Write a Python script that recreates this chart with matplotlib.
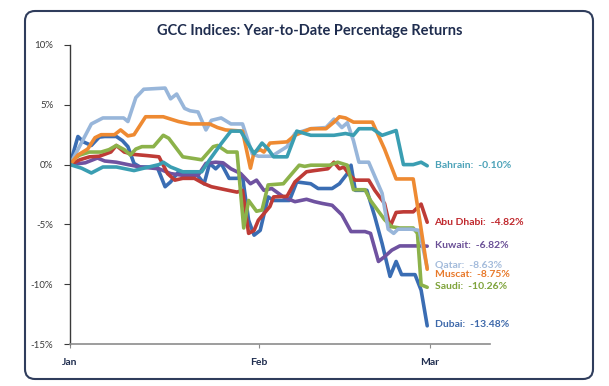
import matplotlib
matplotlib.use("Agg")
import matplotlib.pyplot as plt
from matplotlib.patches import FancyBboxPatch

plt.rcParams['font.family'] = ['Lato', 'DejaVu Sans']

# giorni dal 1 gennaio e rendimenti YTD (%)
dubai_days = [0, 1.3, 2.2, 3.5, 4.8, 5.7, 7.6, 8.6, 9.5, 10.5, 11.5, 14.3, 15.6, 16.5, 17.8, 19.1, 20.7, 22, 22.9, 23.9,
              24.8, 26.1, 27.4, 28.3, 29.3, 30.2, 31.2, 32.5, 33.4, 36, 37.2, 39.5, 40.7, 43, 44.2, 45.5, 46.1, 46.8,
              48.7, 50, 51.2, 52.5, 53.5, 54.4, 56.6, 57.6, 58.6]
dubai = [0, 2.35, 1.9, 1.6, 2.3, 2.35, 2.35, 2.0, 1.5, 0.1, -0.2, -0.2, -1.85, -1.45, -0.6, -0.75, -0.75, -1.6, 0.1,
         -0.35, 0.1, -1.15, -1.15, -1.0, -4.65, -5.9, -5.5, -2.7, -3.0, -3.0, -1.45, -1.6, -2.0, -2.0, -1.6, -0.75,
         -0.05, -2.15, -2.15, -4.35, -6.6, -9.35, -8.1, -9.2, -9.2, -10.5, -13.48]

ad_days = [0, 1.6, 3.2, 4.8, 6.7, 7.6, 8.9, 10.5, 12.7, 14.6, 16, 17.2, 18.5, 20.4, 22, 23.2, 25.5, 27.4, 28.3, 29.3,
           30.2, 30.9, 32.8, 33.4, 35.6, 36.9, 38.8, 40.1, 42.3, 43.3, 44.2, 44.9, 46.1, 46.8, 49, 50, 51.6, 52.5,
           53.5, 54.7, 56.3, 57.6, 58.6]
abu_dhabi = [0, 0.4, 0.65, 0.7, 1.05, 1.6, 1.05, 0.85, 0.75, 0.65, -0.75, -1.3, -1.15, -1.15, -1.6, -1.85, -2.1, -2.3,
             -2.15, -5.75, -5.5, -4.65, -3.5, -2.7, -2.65, -1.45, -0.6, -0.5, -0.35, 0.2, -0.35, -0.2, -1.0, -1.3,
             -1.3, -2.15, -3.25, -5.2, -4.0, -3.95, -3.95, -3.3, -4.82]

kw_days = [0, 2.5, 4.5, 5.7, 7.6, 9.5, 11.5, 14.6, 16.5, 18.5, 21, 22.3, 23.9, 25.1, 26.4, 28, 29.6, 30.6, 31.8, 33.1,
           35, 36.9, 38.8, 40.1, 41.4, 43, 44.6, 46.1, 48.4, 49.3, 50.6, 51.6, 52.8, 54.1, 57.6, 58.6]
kuwait = [0, 0.15, 0.55, 0.3, 0.2, 0.0, -0.2, -0.35, -0.75, -0.9, -0.9, 0.1, 0.2, 0.15, -0.35, -0.75, -1.6, -1.3,
          -2.15, -2.0, -2.7, -3.1, -2.9, -3.1, -3.25, -3.4, -4.2, -5.6, -5.6, -5.75, -8.1, -7.7, -7.15, -6.8, -6.8,
          -6.82]

qa_days = [0, 3.5, 5.4, 8.8, 9.5, 10.8, 12.1, 15.6, 16.5, 17.5, 18.8, 19.7, 21, 22.3, 23.2, 24.8, 26.4, 28.3, 29.9,
           30.9, 33.1, 35.6, 36.9, 39.5, 42, 43.3, 44.6, 45.5, 46.5, 47.4, 49, 51.2, 52.2, 53.1, 53.8, 56, 57.3, 58.6]
qatar = [0, 3.4, 3.9, 3.9, 3.6, 5.6, 6.3, 6.4, 5.5, 5.9, 4.7, 4.5, 4.4, 2.9, 3.7, 3.9, 3.4, 3.4, 0.9, 0.7, 0.7, 1.5,
         2.6, 3.0, 3.1, 3.8, 3.1, 3.5, 2.0, 0.2, 0.2, -2.4, -5.4, -5.75, -5.4, -5.4, -5.5, -8.63]

ms_days = [0, 1.3, 2.9, 4.1, 5.1, 7.3, 8.3, 9.5, 10.5, 12.4, 15.3, 17.8, 19.7, 22.9, 24.2, 25.5, 28.3, 29.6, 30.2,
           31.2, 31.8, 32.8, 35.6, 36.9, 39.5, 42, 43.3, 44.2, 45.2, 46.5, 49.6, 51.6, 53.5, 56.3, 57.3, 58.6]
muscat = [0, 0.8, 1.3, 2.25, 2.5, 2.5, 2.9, 2.4, 2.5, 4.0, 4.0, 3.6, 3.4, 3.4, 3.1, 2.9, 2.8, -0.3, 1.05, 1.25, 1.05,
          1.8, 1.9, 2.45, 3.0, 3.0, 3.55, 4.0, 3.9, 3.55, 3.55, 1.3, -1.2, -1.2, -4.4, -8.75]

sa_days = [0, 1.6, 3.2, 5.1, 6.4, 7.6, 8.9, 9.9, 10.8, 11.8, 13.7, 15.3, 16.2, 18.5, 20.4, 21.6, 23.5, 24.2, 25.8,
           27.4, 28.5, 29.3, 30.6, 31.5, 32.5, 35, 36, 37.6, 38.5, 39.5, 42.6, 43.9, 45.5, 46.5, 48.4, 49.3, 51.6,
           52.8, 54.1, 56.3, 57, 57.6, 58.6]
saudi = [0.3, 0.8, 1.05, 1.05, 1.25, 1.6, 1.25, 0.8, 1.3, 1.5, 1.5, 2.45, 2.2, 0.65, 0.5, 0.4, 1.5, 1.6, 1.05, 1.05,
         -5.3, -3.0, -3.9, -3.8, -1.7, -1.6, -1.0, -0.05, -0.15, -0.05, -0.05, 0.2, -0.05, -2.1, -2.1, -3.0, -4.6,
         -5.2, -5.3, -5.3, -5.75, -10.05, -10.26]

bh_days = [0, 1.9, 3.5, 5.4, 7.6, 10.5, 12.1, 14.6, 15.3, 16.5, 18.5, 21.6, 22.9, 24.8, 26.4, 28.0, 30.2, 31.5, 32.5,
           33.4, 35.6, 37.2, 39.5, 43.3, 45.2, 46.5, 47.4, 49.6, 51.2, 53.5, 54.7, 56.3, 57.6, 58.6]
bahrain = [0, -0.3, -0.7, -0.2, -0.2, -0.5, -0.3, 0.0, 0.2, -0.2, -0.6, -0.6, 0.4, 1.75, 2.8, 2.8, 0.9, 1.8, 1.3,
           0.65, 0.65, 2.8, 2.45, 2.45, 2.6, 2.45, 3.0, 3.0, 2.45, 2.85, 0.0, 0.0, 0.2, -0.1]

month_ticks = [0, 31, 59]
month_labels = ['Jan', 'Feb', 'Mar']

# (nome, giorni, valori, colore linea, colore etichetta, y etichetta)
series = [
    ('Dubai', dubai_days, dubai, '#3A6DB3', '#3D68AA', -13.4),
    ('Kuwait', kw_days, kuwait, '#6F52A0', '#6A4F96', -6.8),
    ('Abu Dhabi', ad_days, abu_dhabi, '#BE3B36', '#C0282D', -4.85),
    ('Saudi', sa_days, saudi, '#8CB24A', '#7FA33A', -10.2),
    ('Qatar', qa_days, qatar, '#98B6DA', '#A3BBDB', -8.4),
    ('Muscat', ms_days, muscat, '#EE8A32', '#E8792A', -9.2),
    ('Bahrain', bh_days, bahrain, '#3A9EB2', '#4BA2B8', -0.08),
]

fig = plt.figure(figsize=(6.09, 3.86), dpi=100)
ax = fig.add_axes([70 / 609, 1 - 344 / 386, 420 / 609, 299 / 386])

for name, d, v, col, lcol, ly in series:
    ax.plot(d, v, color=col, linewidth=2.6, solid_joinstyle='round', solid_capstyle='round')
    ax.text(59.8, ly, f'{name}:  {v[-1]:.2f}%', color=lcol, fontsize=7.5,
            fontweight='bold', va='center', ha='left', clip_on=False)

ax.set_xlim(0, 68.9)
ax.set_ylim(-15, 10)
ax.set_yticks([-15, -10, -5, 0, 5, 10])
ax.set_yticklabels(['-15%', '-10%', '-5%', '0%', '5%', '10%'])
ax.set_xticks(month_ticks)
ax.set_xticklabels(month_labels)

for s in ['top', 'right']:
    ax.spines[s].set_visible(False)
ax.spines['left'].set_color('#3A3A3A')
ax.spines['left'].set_linewidth(1.0)
ax.spines['bottom'].set_color('#8C8C8C')
ax.spines['bottom'].set_linewidth(1.2)

ax.tick_params(axis='y', direction='out', length=4, width=0.8, colors='#3A3A3A', labelsize=7, pad=8)
ax.tick_params(axis='x', direction='out', length=3, width=0.8, colors='#8C8C8C', labelsize=7.5,
               labelcolor='#1F2D4F', pad=7)
for lbl in ax.get_xticklabels():
    lbl.set_fontweight('bold')

fig.text(310 / 609, 1 - 31 / 386, 'GCC Indices: Year-to-Date Percentage Returns', ha='center', va='center',
         fontsize=10.5, fontweight='bold', color='#1F2D4F')

border = FancyBboxPatch((25, 7), 568, 368, boxstyle='round,pad=0,rounding_size=10', transform=None,
                        facecolor='none', edgecolor='#2F3D5C', linewidth=1.5)
fig.patches.append(border)

fig.savefig('out.png', dpi=100)
